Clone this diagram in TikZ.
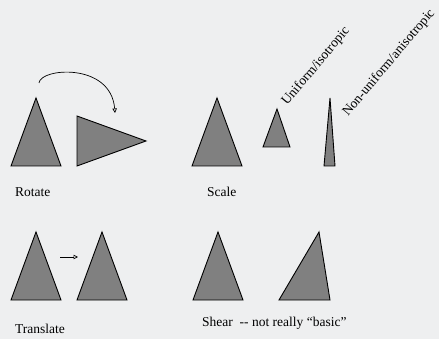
\documentclass[tikz,border=0pt]{standalone}
\usepackage{fontspec}
\setmainfont{Liberation Serif}
\usetikzlibrary{arrows.meta}
\definecolor{bg}{HTML}{EEEFF0}
\definecolor{tri}{HTML}{808080}
\begin{document}
\begin{tikzpicture}[x=1pt,y=-1pt,
  trishape/.style={fill=tri,draw=black,line width=0.9pt,line join=miter},
  lbl/.style={font=\fontsize{13.5}{15}\selectfont,anchor=base west,inner sep=0pt},
  rlbl/.style={lbl,rotate=50},
  openarrow/.style={line width=0.7pt,-{Triangle[open,length=4.5pt,width=4.5pt]}}]
\fill[bg] (0,0) rectangle (439,339);
\useasboundingbox (0,0) rectangle (439,339);
% Rotate
\draw[trishape] (11,166) -- (36,98) -- (61,166) -- cycle;
\draw[trishape] (77,116) -- (146,141) -- (77,166) -- cycle;
\coordinate (rs) at (39,83);
\coordinate (re) at (115,113);
\draw[openarrow] (rs) .. controls (40,68) and (111,62) .. (re);
\node[lbl] (rot) at (15,197) {Rotate};
% Scale
\draw[trishape] (192,166) -- (217,98) -- (242,166) -- cycle;
\draw[trishape] (263,147) -- (277,109) -- (290,147) -- cycle;
\draw[trishape] (324,166) -- (330,98) -- (335,166) -- cycle;
\node[lbl] (sc) at (207,197) {Scale};
\node[rlbl] (uni) at (287,106) {Uniform/isotropic};
\node[rlbl] (non) at (348,117) {Non-uniform/anisotropic};
% Translate
\draw[trishape] (11,300) -- (36,232) -- (61,300) -- cycle;
\draw[trishape] (77,300) -- (102,232) -- (127,300) -- cycle;
\coordinate (ts) at (60,257);
\coordinate (te) at (78,257);
\draw[openarrow] (ts) -- (te);
\node[lbl] (tr) at (15,333) {Translate};
% Shear
\draw[trishape] (193,300) -- (218,232) -- (243,300) -- cycle;
\draw[trishape] (279,300) -- (319,232) -- (330,300) -- cycle;
\node[lbl] (sh) at (202,326) {Shear\ \ -{}- not really “basic”};
\end{tikzpicture}
\end{document}
